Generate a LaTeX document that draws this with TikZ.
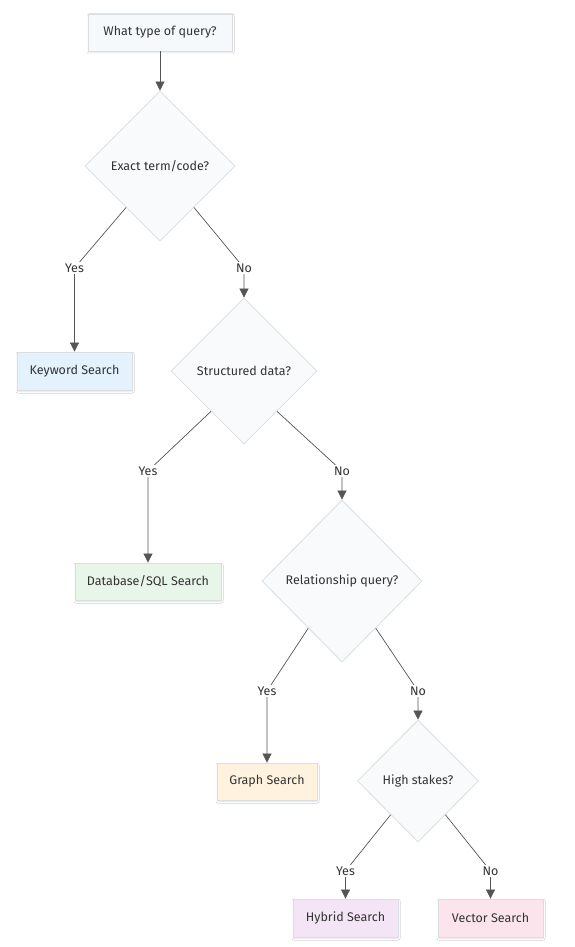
\documentclass[tikz,border=0pt]{standalone}
\usepackage{fontspec}
\setmainfont{Fira Sans}
\usetikzlibrary{shapes.geometric,arrows.meta,calc,shadows.blur}
\definecolor{txt}{HTML}{333333}
\definecolor{edge}{HTML}{555555}
\definecolor{startfill}{HTML}{F5F9FB}
\definecolor{dfill}{HTML}{F8FAFC}
\definecolor{bord}{HTML}{D8DEE2}
\definecolor{kwfill}{HTML}{E3F2FD}
\definecolor{dbfill}{HTML}{E8F5E9}
\definecolor{grfill}{HTML}{FFF3E0}
\definecolor{hyfill}{HTML}{F3E5F5}
\definecolor{vefill}{HTML}{FCE4EC}
\tikzset{
  x=1pt, y=-1pt,
  every node/.style={font=\fontsize{12.5}{14}\selectfont, text=txt},
  boxnode/.style={rectangle, draw=bord, line width=0.8pt, inner sep=0pt,
    blur shadow={shadow blur steps=4, shadow blur radius=1.5pt, shadow xshift=0.5pt, shadow yshift=-1.5pt, shadow opacity=12}},
  decision/.style={diamond, draw=bord, line width=0.8pt, fill=dfill, inner sep=0pt, aspect=1},
  lbl/.style={fill=white, inner sep=1.5pt},
  conn/.style={draw=edge, line width=0.7pt},
  arr/.style={conn, -{Triangle[width=9pt,length=9pt]}, color=edge},
}
\begin{document}
\begin{tikzpicture}
\useasboundingbox[fill=white] (0,0) rectangle (574,947);

% nodes
\node[boxnode, fill=startfill, minimum width=144pt, minimum height=37pt] (start) at (160,32.5) {What type of query?};
\node[decision, minimum width=150pt, minimum height=150pt] (d1) at (160,166) {Exact term/code?};
\node[boxnode, fill=kwfill, minimum width=115pt, minimum height=38pt] (kw) at (74.5,371) {Keyword Search};
\node[decision, minimum width=146pt, minimum height=146pt] (d2) at (244,371) {Structured data?};
\node[boxnode, fill=dbfill, minimum width=146pt, minimum height=37pt] (db) at (148,581.5) {Database/SQL Search};
\node[decision, minimum width=160pt, minimum height=162pt] (d3) at (342,581) {Relationship query?};
\node[boxnode, fill=grfill, minimum width=100pt, minimum height=37pt] (gr) at (267,781.5) {Graph Search};
\node[decision, minimum width=121pt, minimum height=122pt] (d4) at (418,781) {High stakes?};
\node[boxnode, fill=hyfill, minimum width=105pt, minimum height=38pt] (hy) at (345.5,918) {Hybrid Search};
\node[boxnode, fill=vefill, minimum width=105pt, minimum height=38pt] (ve) at (490.5,918) {Vector Search};

% label points
\coordinate (y1) at (74.5,268);
\coordinate (n1) at (244,268);
\coordinate (y2) at (148,471);
\coordinate (n2) at (342,471);
\coordinate (y3) at (267,691);
\coordinate (n3) at (418,691);
\coordinate (y4) at (345.5,871);
\coordinate (n4) at (490.5,871);

% edges
\draw[arr] (start.south) -- (d1.north);
\draw[arr] ($(d1.south)!0.45!(d1.west)$) -- (y1) -- (kw.north);
\draw[arr] ($(d1.south)!0.45!(d1.east)$) -- (n1) -- (d2.north);
\draw[arr] ($(d2.south)!0.45!(d2.west)$) -- (y2) -- (db.north);
\draw[arr] ($(d2.south)!0.45!(d2.east)$) -- (n2) -- (d3.north);
\draw[arr] ($(d3.south)!0.42!(d3.west)$) -- (y3) -- (gr.north);
\draw[arr] ($(d3.south)!0.42!(d3.east)$) -- (n3) -- (d4.north);
\draw[arr] ($(d4.south)!0.45!(d4.west)$) -- (y4) -- (hy.north);
\draw[arr] ($(d4.south)!0.45!(d4.east)$) -- (n4) -- (ve.north);

% labels
\node[lbl] (ly1) at (y1) {Yes};
\node[lbl] (ln1) at (n1) {No};
\node[lbl] (ly2) at (y2) {Yes};
\node[lbl] (ln2) at (n2) {No};
\node[lbl] (ly3) at (y3) {Yes};
\node[lbl] (ln3) at (n3) {No};
\node[lbl] (ly4) at (y4) {Yes};
\node[lbl] (ln4) at (n4) {No};
\end{tikzpicture}
\end{document}
